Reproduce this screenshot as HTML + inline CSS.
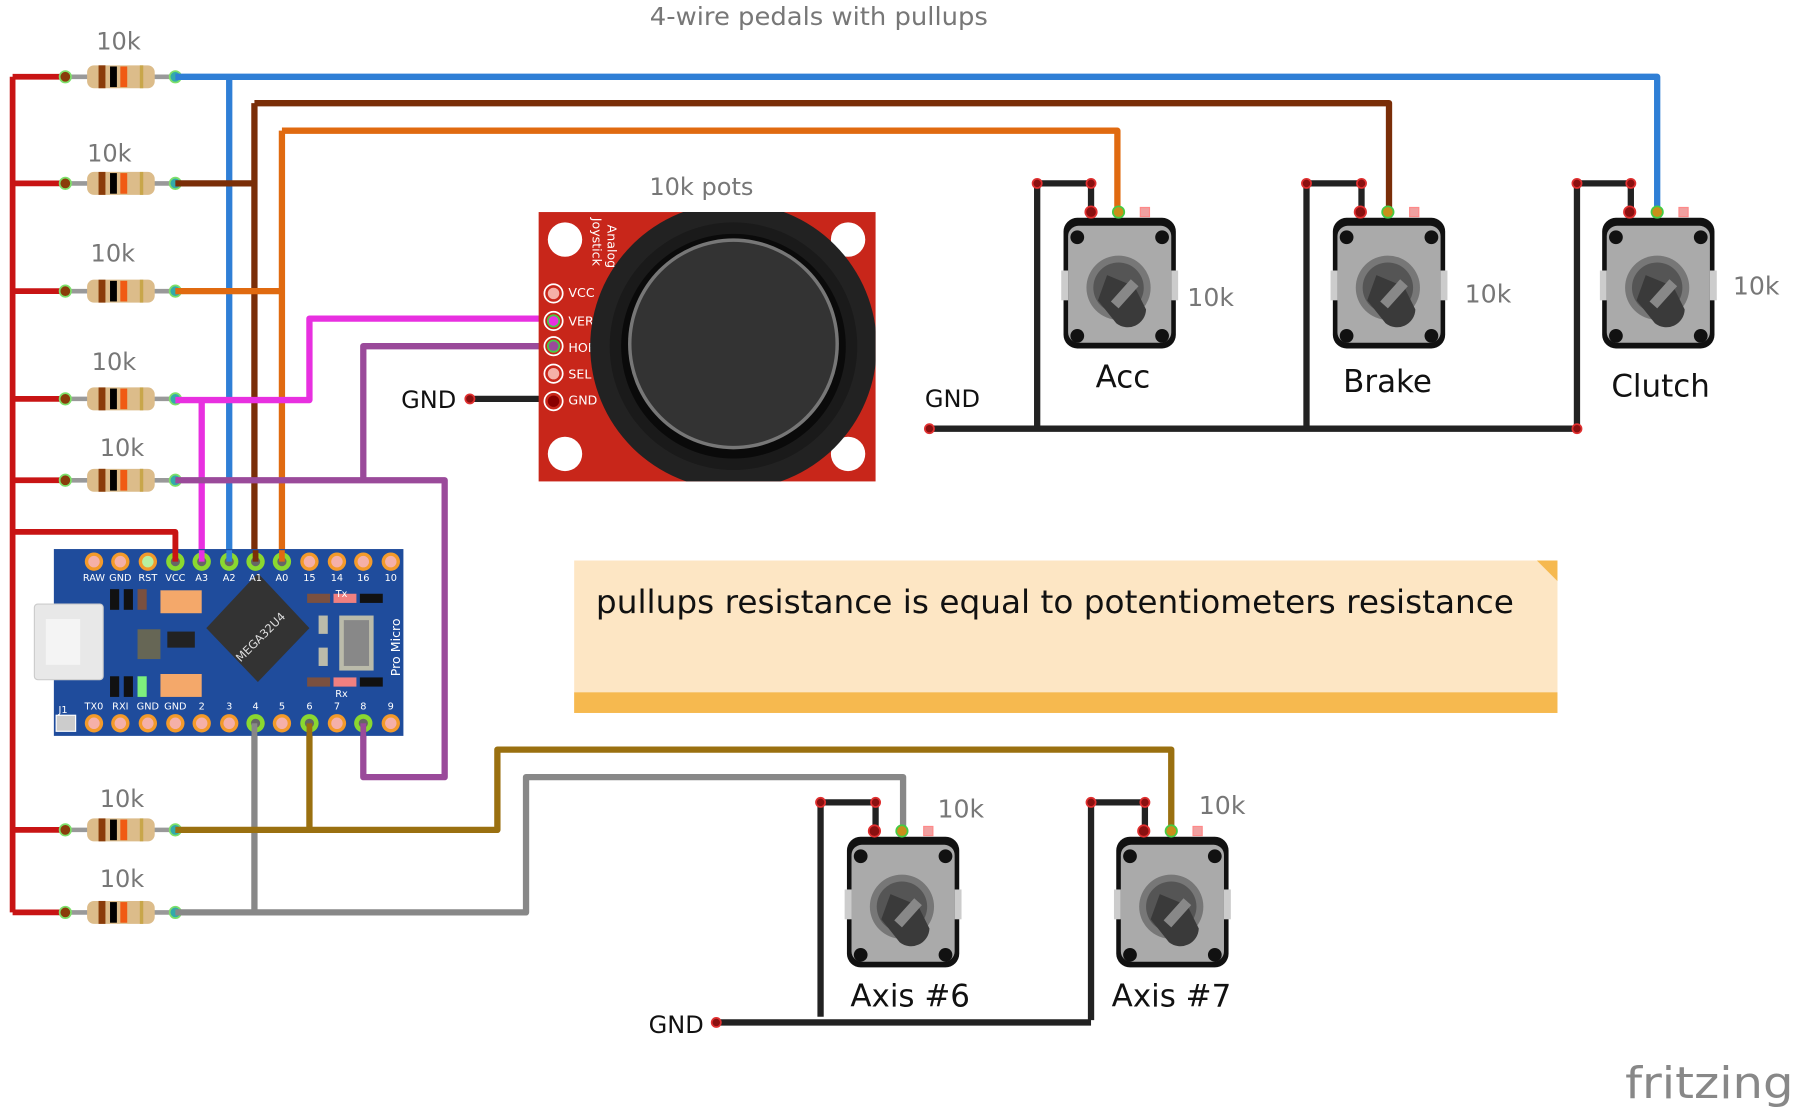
<!DOCTYPE html>
<html><head><meta charset="utf-8"><style>
html,body{margin:0;padding:0;background:#fff;}
svg{display:block;}
text{font-family:"DejaVu Sans","Liberation Sans",sans-serif;}
</style></head><body>
<svg width="1797" height="1113" viewBox="0 0 1568 971" preserveAspectRatio="none" xmlns="http://www.w3.org/2000/svg">
<defs>
<clipPath id="jc"><rect x="470" y="185" width="294" height="235"/></clipPath>
<g id="res">
 <line x1="57" y1="0" x2="153" y2="0" stroke="#999" stroke-width="4"/>
 <rect x="76" y="-10" width="59" height="20" rx="6" fill="#dcbc8a"/>
 <rect x="86" y="-10" width="6" height="20" fill="#8a3c0a"/>
 <rect x="96" y="-9" width="6" height="18" fill="#000"/>
 <rect x="105" y="-9" width="6" height="18" fill="#f05a14"/>
 <rect x="122" y="-10" width="3" height="20" fill="#c8a64a"/>
 <circle cx="57" cy="0" r="5" fill="#8a3c0a" stroke="#7ee06a" stroke-width="1.5"/>
 <circle cx="153" cy="0" r="5" fill="#3aa" stroke="#7ee06a" stroke-width="1.5"/>
</g>
<g id="pot">
 <rect x="0" y="0" width="98" height="114" rx="12" fill="#111"/>
 <rect x="4" y="7" width="90" height="102" rx="9" fill="#aaa"/>
 <rect x="-2" y="46" width="6" height="26" fill="#ccc"/>
 <rect x="94" y="46" width="6" height="26" fill="#ccc"/>
 <circle cx="12" cy="17" r="6" fill="#111"/><circle cx="86" cy="17" r="6" fill="#111"/>
 <circle cx="12" cy="103" r="6" fill="#111"/><circle cx="86" cy="103" r="6" fill="#111"/>
 <circle cx="48" cy="61" r="28" fill="#777"/>
 <circle cx="48" cy="61" r="22" fill="#555"/>
 <path d="M38 50 L62 60 L72 80 A16 16 0 0 1 46 92 L30 72 Z" fill="#3a3a3a"/>
 <rect x="40" y="62" width="26" height="9" transform="rotate(-48 53 66)" fill="#888"/>
 <circle cx="24" cy="-5" r="5" fill="#8a1010" stroke="#e03030" stroke-width="1.5"/>
 <circle cx="48" cy="-5" r="5" fill="#c8901a" stroke="#4c4" stroke-width="1.5"/>
 <rect x="67" y="-9" width="8" height="8" fill="#f0a0a0" stroke="#f88" stroke-width="1"/>
</g>
<g id="pinT"><circle r="8" fill="#f39a2a"/><circle r="5" fill="#f5b0a8"/></g>
<g id="pinW"><circle r="8" fill="#8ad830"/><circle r="4" fill="#666"/></g>
</defs>

<text x="567" y="22" font-size="22" fill="#777" textLength="295" lengthAdjust="spacingAndGlyphs">4-wire pedals with pullups</text>

<g stroke="#c81414" stroke-width="5" fill="none" stroke-linejoin="round">
 <path d="M11 67 V796"/>
 <path d="M11 67 H57 M11 160 H57 M11 254 H57 M11 348 H57 M11 419 H57 M11 724 H57 M11 796 H57"/>
 <path d="M11 464 H153 V490"/>
</g>

<use href="#res" y="67"/><use href="#res" y="160"/><use href="#res" y="254"/><use href="#res" y="348"/>
<use href="#res" y="419"/><use href="#res" y="724"/><use href="#res" y="796"/>
<g font-size="21" fill="#777">
<text x="84" y="43">10k</text><text x="76" y="141">10k</text><text x="79" y="228">10k</text>
<text x="80" y="323">10k</text><text x="87" y="398">10k</text><text x="87" y="704">10k</text><text x="87" y="774">10k</text>
</g>

<g fill="none" stroke-width="5.5" stroke-linejoin="round">
 <path d="M153 67 H1446 V185 M200 67 V490" stroke="#2f7fd6"/>
 <path d="M153 160 H222 M222 90 H1212 V185 M222 90 V490" stroke="#7a2e08"/>
 <path d="M153 254 H246 M246 114 H975 V185 M246 114 V490" stroke="#e06a10"/>
 <path d="M176 490 V349 M153 349 H270 V278 H483" stroke="#e830e0"/>
 <path d="M483 302 H317 V419 M153 419 H388 V678 H317 V631" stroke="#9a4a9a"/>
 <path d="M222 631 V796 M153 796 H459 V678 H788 V722" stroke="#888"/>
 <path d="M270 631 V724 M153 724 H434 V654 H1022 V722" stroke="#9a7010"/>
 <g stroke="#222">
  <path d="M410 348 H483"/>
  <path d="M811 374 H1376 M905 374 V160 H952 V185 M1140 374 V160 H1188 V185 M1376 374 V160 H1423 V185"/>
  <path d="M625 892 H952 M716 887 V700 H764 V722 M952 890 V700 H999 V722"/>
 </g>
</g>
<g fill="#8a1010" stroke="#e03030" stroke-width="1.5">
 <circle cx="410" cy="348" r="4"/><circle cx="811" cy="374" r="4"/><circle cx="625" cy="892" r="4"/>
 <circle cx="905" cy="160" r="4"/><circle cx="952" cy="160" r="4"/><circle cx="1140" cy="160" r="4"/><circle cx="1188" cy="160" r="4"/>
 <circle cx="1376" cy="160" r="4"/><circle cx="1423" cy="160" r="4"/><circle cx="1376" cy="374" r="4"/>
 <circle cx="716" cy="700" r="4"/><circle cx="764" cy="700" r="4"/><circle cx="952" cy="700" r="4"/><circle cx="999" cy="700" r="4"/>
</g>
<g font-size="21" fill="#111">
 <text x="350" y="356">GND</text><text x="807" y="355">GND</text><text x="566" y="901">GND</text>
</g>

<use href="#pot" x="928" y="190"/><use href="#pot" x="1163" y="190"/><use href="#pot" x="1398" y="190"/>
<use href="#pot" x="739" y="730"/><use href="#pot" x="974" y="730"/>
<g font-size="22" fill="#777">
 <text x="1036" y="267">10k</text><text x="1278" y="264">10k</text><text x="1512" y="257">10k</text>
 <text x="818" y="713">10k</text><text x="1046" y="710">10k</text>
</g>
<g font-size="27" fill="#111">
 <text x="956" y="338">Acc</text><text x="1172" y="342">Brake</text><text x="1406" y="346">Clutch</text>
 <text x="742" y="878">Axis #6</text><text x="970" y="878">Axis #7</text>
</g>

<text x="612" y="170" font-size="21" fill="#777" text-anchor="middle">10k pots</text>
<rect x="470" y="185" width="294" height="235" fill="#c8261a"/>
<circle cx="493" cy="209" r="15" fill="#fff"/><circle cx="740" cy="209" r="15" fill="#fff"/>
<circle cx="493" cy="396" r="15" fill="#fff"/><circle cx="740" cy="396" r="15" fill="#fff"/>
<g font-family="Liberation Mono,monospace" font-size="11" fill="#fff">
 <text x="496" y="259">VCC</text><text x="496" y="284">VER</text><text x="496" y="307">HOR</text><text x="496" y="330">SEL</text><text x="496" y="353">GND</text>
 <text transform="translate(530,196) rotate(90)">Analog</text><text transform="translate(517,190) rotate(90)">Joystick</text>
</g>
<g stroke="#fff" stroke-width="1.5" fill="#c8261a">
 <circle cx="483" cy="256" r="8"/><circle cx="483" cy="280" r="8"/><circle cx="483" cy="302" r="8"/><circle cx="483" cy="326" r="8"/><circle cx="483" cy="350" r="8"/>
</g>
<circle cx="483" cy="256" r="5" fill="#f5b0a8"/><circle cx="483" cy="280" r="5" fill="#e830e0" stroke="#4c4" stroke-width="1.5"/>
<circle cx="483" cy="302" r="5" fill="#9a4a9a" stroke="#4c4" stroke-width="1.5"/><circle cx="483" cy="326" r="5" fill="#f5b0a8"/><circle cx="483" cy="350" r="5" fill="#800"/>
<g clip-path="url(#jc)">
<circle cx="640" cy="302" r="125" fill="#222"/>
<circle cx="640" cy="302" r="108" fill="#1a1a1a"/>
<circle cx="640" cy="302" r="98" fill="#0a0a0a"/>
<circle cx="640" cy="300" r="92" fill="#777"/>
<circle cx="640" cy="300" r="89" fill="#333"/>
</g>

<rect x="47" y="479" width="305" height="163" fill="#1f4c9c"/>
<rect x="30" y="527" width="60" height="66" rx="3" fill="#e8e8e8" stroke="#ccc"/>
<rect x="40" y="540" width="30" height="40" fill="#f4f4f4"/>
<polygon points="225,500 270,548 225,595 180,548" fill="#333"/>
<text transform="translate(210,578) rotate(-45)" font-family="Liberation Mono,monospace" font-size="10" fill="#ddd">MEGA32U4</text>
<rect x="140" y="515" width="36" height="20" fill="#f4a86a"/><rect x="140" y="588" width="36" height="20" fill="#f4a86a"/>
<rect x="96" y="514" width="8" height="18" fill="#111"/><rect x="108" y="514" width="8" height="18" fill="#111"/><rect x="120" y="514" width="8" height="18" fill="#7a5040"/>
<rect x="96" y="590" width="8" height="18" fill="#111"/><rect x="108" y="590" width="8" height="18" fill="#111"/><rect x="120" y="590" width="8" height="18" fill="#7df07d"/>
<rect x="120" y="549" width="20" height="26" fill="#665"/><rect x="146" y="551" width="24" height="14" fill="#222"/>
<rect x="296" y="537" width="30" height="48" fill="#bba" /><rect x="300" y="541" width="22" height="40" fill="#888"/>
<rect x="278" y="537" width="8" height="16" fill="#bba"/><rect x="278" y="565" width="8" height="16" fill="#bba"/>
<rect x="268" y="518" width="20" height="8" fill="#7a5040"/><rect x="291" y="518" width="20" height="8" fill="#f08080"/><rect x="314" y="518" width="20" height="8" fill="#111"/>
<rect x="268" y="591" width="20" height="8" fill="#7a5040"/><rect x="291" y="591" width="20" height="8" fill="#f08080"/><rect x="314" y="591" width="20" height="8" fill="#111"/>
<text transform="translate(349,590) rotate(-90)" font-family="Liberation Mono,monospace" font-size="11" fill="#fff">Pro Micro</text>
<g font-family="Liberation Mono,monospace" font-size="8.5" fill="#fff" text-anchor="middle">
 <text x="82" y="507">RAW</text><text x="105" y="507">GND</text><text x="129" y="507">RST</text><text x="153" y="507">VCC</text><text x="176" y="507">A3</text><text x="200" y="507">A2</text><text x="223" y="507">A1</text><text x="246" y="507">A0</text><text x="270" y="507">15</text><text x="294" y="507">14</text><text x="317" y="507">16</text><text x="341" y="507">10</text>
 <text x="82" y="619">TX0</text><text x="105" y="619">RXI</text><text x="129" y="619">GND</text><text x="153" y="619">GND</text><text x="176" y="619">2</text><text x="200" y="619">3</text><text x="223" y="619">4</text><text x="246" y="619">5</text><text x="270" y="619">6</text><text x="294" y="619">7</text><text x="317" y="619">8</text><text x="341" y="619">9</text>
 <text x="55" y="622">J1</text><text x="298" y="521">Tx</text><text x="298" y="608">Rx</text>
</g>
<rect x="49" y="624" width="17" height="14" fill="#ccc" stroke="#fff"/>
<use href="#pinT" x="82" y="490"/><use href="#pinT" x="105" y="490"/><g transform="translate(129,490)"><circle r="8" fill="#f39a2a"/><circle r="5" fill="#b8f0a0"/></g>
<use href="#pinW" x="153" y="490"/><use href="#pinW" x="176" y="490"/><use href="#pinW" x="200" y="490"/><use href="#pinW" x="223" y="490"/><use href="#pinW" x="246" y="490"/>
<use href="#pinT" x="270" y="490"/><use href="#pinT" x="294" y="490"/><use href="#pinT" x="317" y="490"/><use href="#pinT" x="341" y="490"/>
<use href="#pinT" x="82" y="631"/><use href="#pinT" x="105" y="631"/><use href="#pinT" x="129" y="631"/><use href="#pinT" x="153" y="631"/><use href="#pinT" x="176" y="631"/><use href="#pinT" x="200" y="631"/>
<use href="#pinW" x="223" y="631"/><use href="#pinT" x="246" y="631"/><use href="#pinW" x="270" y="631"/><use href="#pinT" x="294" y="631"/><use href="#pinW" x="317" y="631"/><use href="#pinT" x="341" y="631"/>
<g fill="none" stroke-width="5">
 <path d="M153 464 V490" stroke="#c81414"/><path d="M176 480 V490" stroke="#e830e0"/><path d="M200 480 V490" stroke="#2f7fd6"/>
 <path d="M223 480 V490" stroke="#7a2e08"/><path d="M246 480 V490" stroke="#e06a10"/>
 <path d="M222 631 V645" stroke="#888"/><path d="M270 631 V645" stroke="#9a7010"/><path d="M317 631 V645" stroke="#9a4a9a"/>
</g>

<rect x="501" y="489" width="858" height="133" fill="#fde6c4"/>
<rect x="501" y="604" width="858" height="18" fill="#f6b94f"/>
<polygon points="1341,489 1359,489 1359,507" fill="#f6b94f"/>
<text x="520" y="535" font-size="28" fill="#111" textLength="801" lengthAdjust="spacingAndGlyphs">pullups resistance is equal to potentiometers resistance</text>

<text x="1418" y="958" font-size="38" fill="#888" textLength="147" lengthAdjust="spacingAndGlyphs">fritzing</text>
</svg>
</body></html>
